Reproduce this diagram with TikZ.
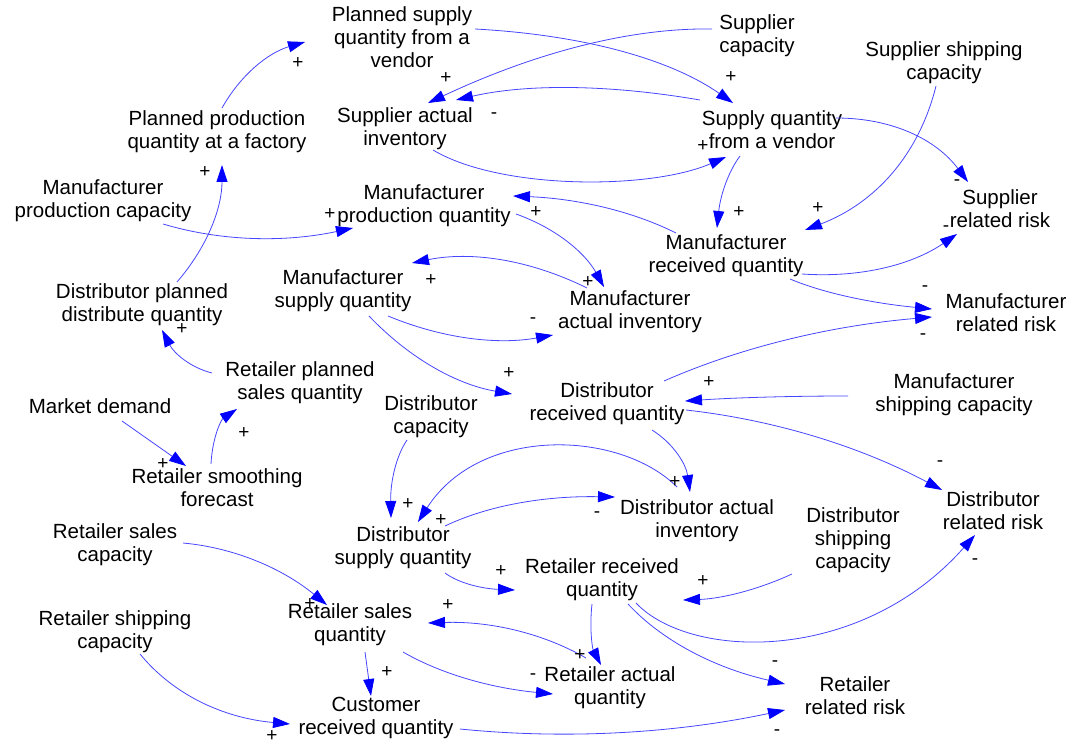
\documentclass[tikz,border=0pt]{standalone}
\usepackage{fontspec}
\setmainfont{Liberation Sans}
\usetikzlibrary{arrows.meta}
\definecolor{lnblue}{RGB}{70,70,255}
\definecolor{tipblue}{RGB}{0,0,255}
\tikzset{
  var/.style={align=center,inner sep=0pt,font=\fontsize{20.5}{23}\selectfont},
  sgn/.style={inner sep=0pt,font=\fontsize{19}{19}\selectfont},
  lk/.style={draw=lnblue,line width=0.8pt,-{Triangle[length=17pt,width=11pt,fill=tipblue,color=tipblue]}}
}
\begin{document}
\begin{tikzpicture}[x=1pt,y=-1pt]
\useasboundingbox[fill=white] (0,0) rectangle (1070,746);
% variables
\node[var] (psq) at (402,37) {Planned supply\\quantity from a\\vendor};
\node[var] (sc) at (757,36) {Supplier\\capacity};
\node[var] (ssc) at (944,63) {Supplier shipping\\capacity};
\node[var] (sai) at (405,129) {Supplier actual\\inventory};
\node[var] (sqv) at (772,130) {Supply quantity\\from a vendor};
\node[var] (ppq) at (217,132) {Planned production\\quantity at a factory};
\node[var] (mpc) at (103,201) {Manufacturer\\production capacity};
\node[var] (mpq) at (424,206) {Manufacturer\\production quantity};
\node[var] (srr) at (1000,209) {Supplier\\related risk};
\node[var] (mrq) at (726,256) {Manufacturer\\received quantity};
\node[var] (msq) at (343,291) {Manufacturer\\supply quantity};
\node[var] (dpd) at (142,305) {Distributor planned\\distribute quantity};
\node[var] (mai) at (630,312) {Manufacturer\\actual inventory};
\node[var] (mrr) at (1006,313) {Manufacturer\\related risk};
\node[var] (rps) at (300,383) {Retailer planned\\sales quantity};
\node[var] (md) at (100,406) {Market demand};
\node[var] (drq) at (607,404) {Distributor\\received quantity};
\node[var] (msc) at (954,395) {Manufacturer\\shipping capacity};
\node[var] (dc) at (431,417) {Distributor\\capacity};
\node[var] (rsf) at (217,488) {Retailer smoothing\\forecast};
\node[var] (drr) at (993,511) {Distributor\\related risk};
\node[var] (dai) at (697,521) {Distributor actual\\inventory};
\node[var] (dsq) at (403,548) {Distributor\\supply quantity};
\node[var] (dsc) at (853,540) {Distributor\\shipping\\capacity};
\node[var] (rsc) at (115,545) {Retailer sales\\capacity};
\node[var] (rrq) at (602,580) {Retailer received\\quantity};
\node[var] (rshc) at (115,632) {Retailer shipping\\capacity};
\node[var] (rsq) at (350,625) {Retailer sales\\quantity};
\node[var] (raq) at (610,688) {Retailer actual\\quantity};
\node[var] (crq) at (376,718) {Customer\\received quantity};
\node[var] (rrr) at (855,696) {Retailer\\related risk};
% links
\draw[lk] ([shift={(5,-24)}]ppq.center) .. controls (240.7,74.7) and (268.3,52.7) .. ([shift={(-97,5)}]psq.center);
\draw[lk] ([shift={(73,-8)}]psq.center) .. controls (585,35) and (671,59.7) .. ([shift={(-39,-27)}]sqv.center);
\draw[lk] ([shift={(-45,-7)}]sc.center) .. controls (630.7,27.7) and (536,52.3) .. ([shift={(23,-26)}]sai.center);
\draw[lk] ([shift={(-72,-30)}]sqv.center) .. controls (606.7,84) and (525.3,84) .. ([shift={(51,-29)}]sai.center);
\draw[lk] ([shift={(28,21)}]sai.center) .. controls (500,190) and (650,190) .. ([shift={(-46,27)}]sqv.center);
\draw[lk] ([shift={(-32,26)}]sqv.center) .. controls (728,172) and (720.3,196) .. ([shift={(-9,-28)}]mrq.center);
\draw[lk] ([shift={(64,-12)}]sqv.center) .. controls (892,118) and (936,139.3) .. ([shift={(-32,-27)}]srr.center);
\draw[lk] ([shift={(-8,23)}]ssc.center) .. controls (918.7,155.3) and (875,203.3) .. ([shift={(79,-26)}]mrq.center);
\draw[lk] ([shift={(-50,-23)}]mrq.center) .. controls (632,211) and (577.7,198.7) .. ([shift={(89,-10)}]mpq.center);
\draw[lk] ([shift={(92,8)}]mpq.center) .. controls (555.3,228) and (584.7,252.3) .. ([shift={(-26,-25)}]mai.center);
\draw[lk] ([shift={(60,23)}]mpc.center) .. controls (221,241.3) and (284.3,242.7) .. ([shift={(-71,22)}]mpq.center);
\draw[lk] ([shift={(35,-23)}]dpd.center) .. controls (207,247.3) and (222,208.3) .. ([shift={(5,33)}]ppq.center);
\draw[lk] ([shift={(-43,-24)}]mai.center) .. controls (529,259.3) and (470.7,251) .. ([shift={(69,-28)}]msq.center);
\draw[lk] ([shift={(45,25)}]msq.center) .. controls (442.7,338.7) and (497.7,345) .. ([shift={(-77,23)}]mai.center);
\draw[lk] ([shift={(26,25)}]msq.center) .. controls (409.7,358.7) and (457.3,384.7) .. ([shift={(-95,-10)}]drq.center);
\draw[lk] ([shift={(76,18)}]mrq.center) .. controls (860.7,278) and (912.3,264.7) .. ([shift={(-43,25)}]srr.center);
\draw[lk] ([shift={(64,23)}]mrq.center) .. controls (823.3,293) and (870.7,303) .. ([shift={(-74,-4)}]mrr.center);
\draw[lk] ([shift={(57,-23)}]drq.center) .. controls (741.3,347) and (830.7,325.7) .. ([shift={(-74,4)}]mrr.center);
\draw[lk] ([shift={(-106,1)}]msc.center) .. controls (789,396) and (735,397.7) .. ([shift={(78,-3)}]drq.center);
\draw[lk] ([shift={(45,26)}]drq.center) .. controls (673.3,443.3) and (686,464) .. ([shift={(-7,-29)}]dai.center);
\draw[lk] ([shift={(79,6)}]drq.center) .. controls (775.3,420) and (860.7,446.7) .. ([shift={(-51,-21)}]drr.center);
\draw[lk] ([shift={(-88,-10)}]rps.center) .. controls (190.7,367.7) and (174,353.3) .. ([shift={(20,25)}]dpd.center);
\draw[lk] ([shift={(22,15)}]md.center) -- ([shift={(-31,-22)}]rsf.center);
\draw[lk] ([shift={(-6,-24)}]rsf.center) .. controls (212.3,438) and (221,419.7) .. ([shift={(-63,26)}]rps.center);
\draw[lk] ([shift={(-24,23)}]dc.center) .. controls (395.7,456.7) and (390.3,482.7) .. ([shift={(-12,-30)}]dsq.center);
\draw[lk] ([shift={(-20,-34)}]dai.center) .. controls (620,430) and (480,425) .. ([shift={(15,-26)}]dsq.center);
\draw[lk] ([shift={(42,-22)}]dsq.center) .. controls (488.3,505.3) and (545,495.7) .. ([shift={(-82,-24)}]dai.center);
\draw[lk] ([shift={(42,25)}]dsq.center) .. controls (458.3,583) and (481.7,588.7) .. ([shift={(-87,10)}]rrq.center);
\draw[lk] ([shift={(-61,34)}]dsc.center) .. controls (757.3,590) and (721,598.7) .. ([shift={(81,20)}]rrq.center);
\draw[lk] ([shift={(34,23)}]rrq.center) .. controls (690,660) and (860,665) .. ([shift={(-18,24)}]drr.center);
\draw[lk] ([shift={(-10,24)}]rrq.center) .. controls (589.3,628) and (592.3,648.3) .. ([shift={(-9,-23)}]raq.center);
\draw[lk] ([shift={(-24,-30)}]raq.center) .. controls (542,632.7) and (489.3,621) .. ([shift={(78,-2)}]rsq.center);
\draw[lk] ([shift={(53,27)}]rsq.center) .. controls (441,674) and (491,688) .. ([shift={(-57,6)}]raq.center);
\draw[lk] ([shift={(26,24)}]rrq.center) .. controls (662.7,641.3) and (715,668) .. ([shift={(-70,-12)}]rrr.center);
\draw[lk] ([shift={(84,11)}]crq.center) .. controls (566.7,739.7) and (675,733.3) .. ([shift={(-70,14)}]rrr.center);
\draw[lk] ([shift={(68,-2)}]rsc.center) .. controls (234.3,547.7) and (282.3,568.3) .. ([shift={(-23,-20)}]rsq.center);
\draw[lk] ([shift={(25,22)}]rshc.center) .. controls (173.3,694.7) and (223.3,718) .. ([shift={(-86,6)}]crq.center);
\draw[lk] ([shift={(15,27)}]rsq.center) -- ([shift={(-5,-22)}]crq.center);
% polarity signs
\node[sgn] (p1) at (298,63) {+};
\node[sgn] (p2) at (731,77) {+};
\node[sgn] (p3) at (446,78) {+};
\node[sgn] (p4) at (494,116) {-};
\node[sgn] (p5) at (703,146) {+};
\node[sgn] (p6) at (739,212) {+};
\node[sgn] (p7) at (957,183) {-};
\node[sgn] (p8) at (818,208) {+};
\node[sgn] (p9) at (536,212) {+};
\node[sgn] (p10) at (588,282) {+};
\node[sgn] (p11) at (330,214) {+};
\node[sgn] (p12) at (205,172) {+};
\node[sgn] (p13) at (431,280) {+};
\node[sgn] (p14) at (533,321) {-};
\node[sgn] (p15) at (509,373) {+};
\node[sgn] (p16) at (946,229) {-};
\node[sgn] (p17) at (925,289) {-};
\node[sgn] (p18) at (923,337) {-};
\node[sgn] (p19) at (709,382) {+};
\node[sgn] (p20) at (675,482) {+};
\node[sgn] (p21) at (940,464) {-};
\node[sgn] (p22) at (182,329) {+};
\node[sgn] (p23) at (163,464) {+};
\node[sgn] (p24) at (244,433) {+};
\node[sgn] (p25) at (408,504) {+};
\node[sgn] (p26) at (441,520) {+};
\node[sgn] (p27) at (597,515) {-};
\node[sgn] (p28) at (501,571) {+};
\node[sgn] (p29) at (703,581) {+};
\node[sgn] (p30) at (975,562) {-};
\node[sgn] (p31) at (580,655) {+};
\node[sgn] (p32) at (448,605) {+};
\node[sgn] (p33) at (533,677) {-};
\node[sgn] (p34) at (775,664) {-};
\node[sgn] (p35) at (777,733) {-};
\node[sgn] (p36) at (310,604) {+};
\node[sgn] (p37) at (272,736) {+};
\node[sgn] (p38) at (387,672) {+};
\end{tikzpicture}
\end{document}
